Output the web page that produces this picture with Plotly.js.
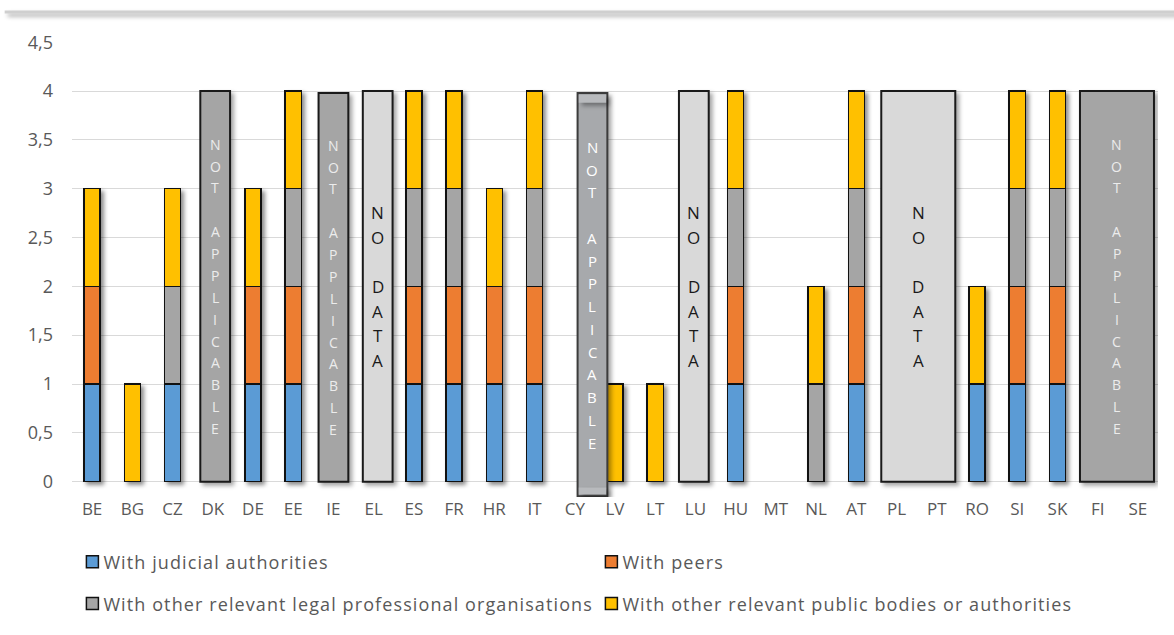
<!DOCTYPE html>
<html>
<head>
<meta charset="utf-8">
<script src="https://cdn.plot.ly/plotly-3.0.1.min.js"></script>
<style>
  html, body { margin: 0; padding: 0; background: #fff; }
  #chart { width: 1174px; height: 635px; }
  g.barlayer { filter: drop-shadow(3px 3px 2px rgba(0,0,0,0.45)); }
  g.shapelayer path { filter: drop-shadow(3px 3px 2px rgba(0,0,0,0.35)); }
</style>
</head>
<body>
<div id="chart"></div>
<script>
// ---- data ----
const categories = ['BE','BG','CZ','DK','DE','EE','IE','EL','ES','FR','HR','IT','CY','LV','LT','LU','HU','MT','NL','AT','PL','PT','RO','SI','SK','FI','SE'];
const judicial   = [1,0,1,0,1,1,0,0,1,1,1,1,0,0,0,0,1,0,0,1,0,0,1,1,1,0,0];
const peers      = [1,0,0,0,1,1,0,0,1,1,1,1,0,0,0,0,1,0,0,1,0,0,0,1,1,0,0];
const legalOrgs  = [0,0,1,0,0,1,0,0,1,1,0,1,0,0,0,0,1,0,1,1,0,0,0,1,1,0,0];
const publicBods = [1,1,1,0,1,1,0,0,1,1,1,1,0,1,1,0,1,0,1,1,0,0,1,1,1,0,0];
const seriesNames = ['With judicial authorities','With peers','With other relevant legal professional organisations','With other relevant public bodies or authorities'];
const yTickVals  = [0,0.5,1,1.5,2,2.5,3,3.5,4,4.5];
const notApplicableGroups = [['DK'],['IE'],['CY'],['FI','SE']];
const noDataGroups        = [['EL'],['LU'],['PL','PT']];
const notApplicableLabel = 'NOT APPLICABLE';
const noDataLabel = 'NO DATA';
const maxScore = 4;

// ---- styles / layout helpers ----
const colors = ['#5b9bd5','#ed7d31','#a5a5a5','#ffc000'];
const boxStyle = {
  na: {fill:'#a5a5a5', line:'#1a1a1a', text:'#ececec', size:14, step:0.224},
  nd: {fill:'#d9d9d9', line:'#1a1a1a', text:'#1a1a1a', size:17, step:0.2526},
  cy: {fill:'#a7a9ac', line:'#3c3c3c', text:'#ffffff', size:15, step:0.233}
};
// small manual placement offsets (category units), as in the original drawing
const boxShift = {DK:0.06, IE:0.0, EL:0.1, CY:0.44, LU:-0.04, 'PL-PT':0.04, 'FI-SE':-0.02};
const halfW = 0.37;

const idx = c => categories.indexOf(c);
const nz = arr => arr.map(v => v === 0 ? null : v);

const traces = [judicial, peers, legalOrgs, publicBods].map((vals, i) => ({
  type: 'bar',
  x: categories,
  y: nz(vals),
  name: seriesNames[i],
  width: 0.4,
  marker: {color: colors[i], line: {color: '#111', width: 1.5}},
  legend: i < 2 ? 'legend' : 'legend2',
  hoverinfo: 'x+y+name'
}));

const shapes = [];
const annotations = [];

function addBox(group, kind) {
  const key = group.join('-');
  const style = key === 'CY' ? boxStyle.cy : boxStyle[kind];
  const shift = boxShift[key] || 0;
  const x0 = idx(group[0]) - halfW - (group.length > 1 ? 0.05 : 0) + shift;
  const x1 = idx(group[group.length-1]) + halfW + (group.length > 1 ? 0.05 : 0) + shift;
  const yTop = key === 'CY' || key === 'IE' ? maxScore - 0.02 : maxScore;
  const yBot = key === 'CY' ? -0.15 : 0;
  shapes.push({type:'rect', xref:'x', yref:'y', x0:x0, x1:x1, y0:yBot, y1:yTop,
    fillcolor: style.fill, line:{color: style.line, width: 2}, layer:'above'});
  if (key === 'CY') {
    shapes.push({type:'rect', xref:'x', yref:'y', x0:x0+0.03, x1:x1-0.03, y0:yTop-0.1, y1:yTop-0.02,
      fillcolor:'#b8babd', line:{width:0}, layer:'above'});
    shapes.push({type:'rect', xref:'x', yref:'y', x0:x0+0.03, x1:x1-0.03, y0:yBot+0.02, y1:yBot+0.09,
      fillcolor:'#b8babd', line:{width:0}, layer:'above'});
  }
  const label = kind === 'na' ? notApplicableLabel : noDataLabel;
  const chars = label.split('');
  const cx = (x0 + x1) / 2;
  const cy = (yTop + yBot) / 2;
  const n = chars.length;
  chars.forEach((ch, k) => {
    if (ch === ' ') return;
    annotations.push({xref:'x', yref:'y', x:cx, y: cy + ((n-1)/2 - k) * style.step,
      text: ch, showarrow:false, xanchor:'center', yanchor:'middle',
      font:{family:'Open Sans, sans-serif', size: style.size, color: style.text}});
  });
}
notApplicableGroups.forEach(g => addBox(g, 'na'));
noDataGroups.forEach(g => addBox(g, 'nd'));

// decorative frame line at the top (cropped border of the original figure)
shapes.push({type:'line', xref:'paper', yref:'paper', x0:-0.062, x1:1.02, y0:1.066, y1:1.066,
  line:{color:'#cfcfcf', width:3}, layer:'above'});

const legendCommon = {orientation:'h', xref:'container', yref:'container', x:0.054, yanchor:'middle',
  entrywidth:474, entrywidthmode:'pixels', font:{size:18, color:'#595959'}, bgcolor:'rgba(0,0,0,0)',
  traceorder:'normal', itemwidth:30};

const layout = {
  width: 1174, height: 635,
  margin: {l:72, r:16, t:42, b:138},
  paper_bgcolor: '#ffffff', plot_bgcolor: '#ffffff',
  barmode: 'stack',
  separators: ',.',
  font: {family:'Open Sans, sans-serif', color:'#595959'},
  xaxis: {type:'category', range:[-0.5, categories.length-0.5], showgrid:false, zeroline:false,
    showline:false, ticks:'', tickfont:{size:17, color:'#595959', family:'Open Sans, sans-serif'}, fixedrange:true},
  yaxis: {range:[-0.157, 4.502], tickvals: yTickVals, showgrid:true, gridcolor:'#d9d9d9', gridwidth:1,
    zeroline:false, showline:false, ticks:'', tickfont:{size:18, color:'#595959'}, ticklabelstandoff: 18, fixedrange:true},
  showlegend: true,
  legend: Object.assign({}, legendCommon, {y:0.115}),
  legend2: Object.assign({}, legendCommon, {y:0.049}),
  shapes: shapes,
  annotations: annotations
};

function tuneLegend(gd) {
  gd.querySelectorAll('svg text').forEach(t => {
    if (seriesNames.indexOf(t.textContent) !== -1) {
      t.setAttribute('letter-spacing', '1.1');
      t.style.letterSpacing = '1.1px';
    }
  });
  gd.querySelectorAll('g.legendsymbols').forEach(g => {
    g.setAttribute('transform', 'translate(9,0)');
  });
}
const gdEl = document.getElementById('chart');
Plotly.newPlot(gdEl, traces, layout, {displayModeBar:false, staticPlot:true}).then(gd => {
  tuneLegend(gd);
  gd.on('plotly_afterplot', () => tuneLegend(gd));
  setTimeout(() => tuneLegend(gd), 50);
});
</script>
</body>
</html>
